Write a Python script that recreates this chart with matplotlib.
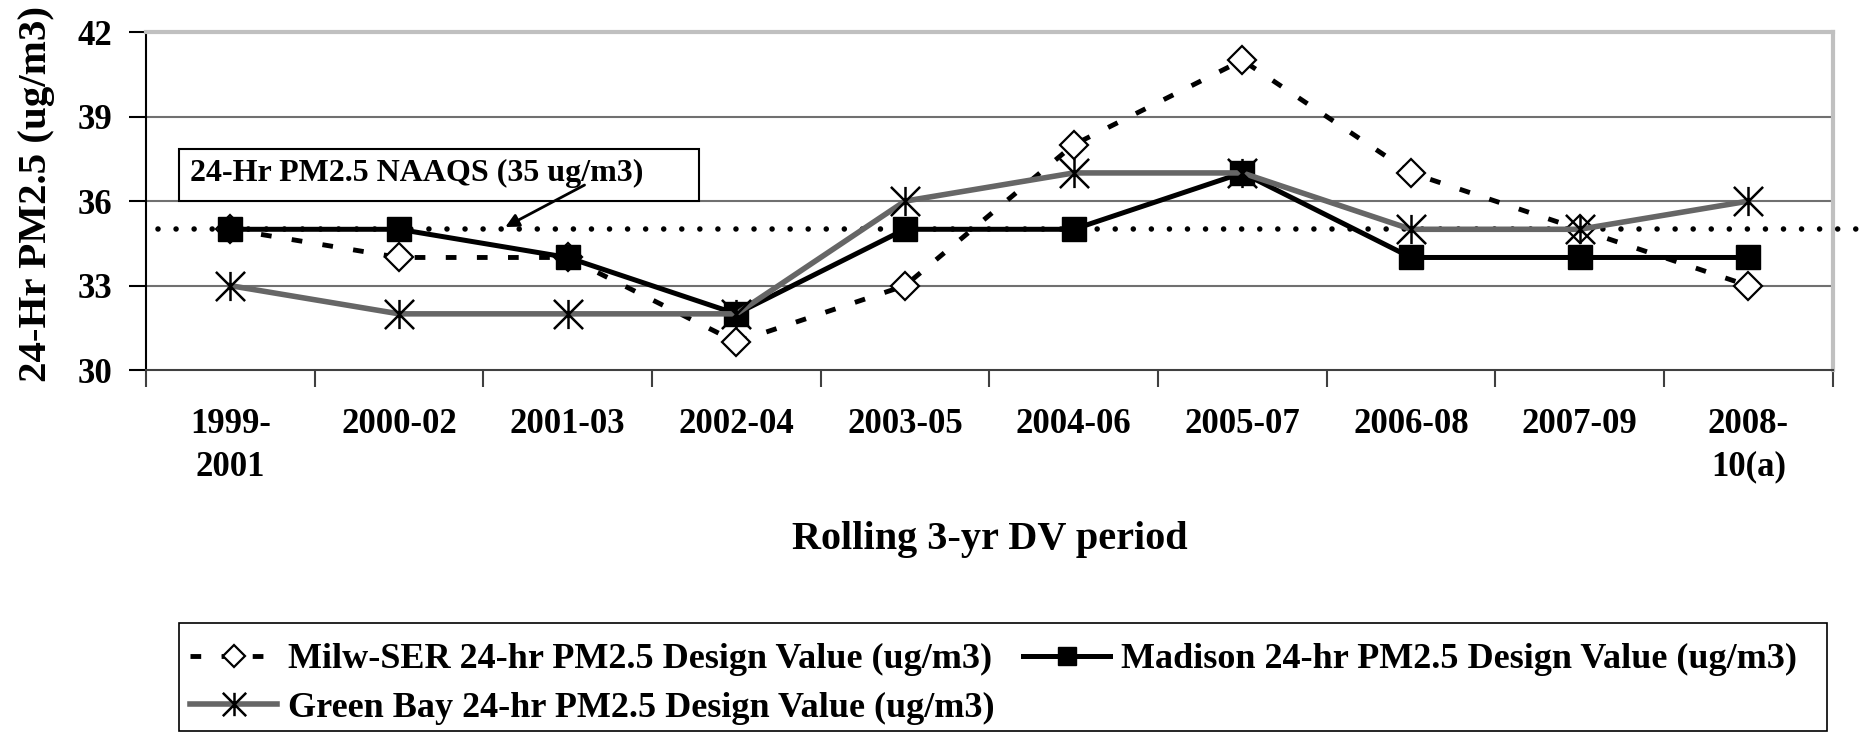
import numpy as np
import matplotlib.pyplot as plt
from matplotlib.path import Path
from matplotlib.patches import Rectangle

# rolling 3-yr design value periods
periods = ['1999-\n2001', '2000-02', '2001-03', '2002-04', '2003-05',
           '2004-06', '2005-07', '2006-08', '2007-09', '2008-\n10(a)']

# 24-hr PM2.5 design values (ug/m3)
milw_ser = [35, 34, 34, 31, 33, 38, 41, 37, 35, 33]
madison = [35, 35, 34, 32, 35, 35, 37, 34, 34, 34]
green_bay = [33, 32, 32, 32, 36, 37, 37, 35, 35, 36]

naaqs = 35
yticks = [30, 33, 36, 39, 42]

plt.rcParams['font.family'] = ['Liberation Serif', 'DejaVu Serif']
plt.rcParams['font.weight'] = 'bold'

# asterisk marker: X plus vertical bar
star = Path([(-1, -1), (1, 1), (-1, 1), (1, -1), (0, -1), (0, 1)],
            [Path.MOVETO, Path.LINETO, Path.MOVETO, Path.LINETO, Path.MOVETO, Path.LINETO])

fig, ax = plt.subplots(figsize=(18.72, 7.36), dpi=100)
fig.subplots_adjust(left=0.078, right=0.979, top=0.9565, bottom=0.497)

x = np.arange(len(periods))

# NAAQS dotted line, runs a bit past the plot area
ax.plot([-0.43, 9.65], [naaqs, naaqs], color='black', lw=4,
        linestyle=(0, (0.001, 3.25)), dash_capstyle='round', clip_on=False, zorder=3)

l1, = ax.plot(x, milw_ser, color='black', lw=3.5, linestyle=(0, (2.2, 4.2)),
              marker='D', markersize=14, markerfacecolor='white', markeredgecolor='black',
              markeredgewidth=1.6, zorder=4)
l2, = ax.plot(x, madison, color='black', lw=3.6, marker='s', markersize=17,
              markerfacecolor='black', markeredgecolor='black', zorder=5)
l3, = ax.plot(x, green_bay, color='#666666', lw=4, marker=star, markersize=21,
              markerfacecolor='none', markeredgecolor='black', markeredgewidth=1.8, zorder=6)

ax.set_xlim(-0.5, len(periods) - 0.5)
ax.set_ylim(30, 42)
ax.set_yticks(yticks)
ax.set_xticks(x)
ax.set_xticklabels(periods, fontsize=25, fontweight='bold', linespacing=1.4)
ax.set_xticks(np.arange(-0.5, len(periods)), minor=True)
ax.tick_params(axis='x', which='major', length=0, pad=27)
ax.tick_params(axis='x', which='minor', length=12, width=1.5, color='#404040')
ax.tick_params(axis='y', length=12, width=1.5, pad=12, labelsize=25)

for y in yticks[1:-1]:
    ax.axhline(y, color='#707070', lw=1.5, zorder=1)

ax.spines['top'].set_color('#c0c0c0')
ax.spines['top'].set_linewidth(3)
ax.spines['right'].set_color('#c0c0c0')
ax.spines['right'].set_linewidth(3)
ax.spines['left'].set_linewidth(1.5)
ax.spines['bottom'].set_color('#404040')
ax.spines['bottom'].set_linewidth(1.5)

ax.set_xlabel('Rolling 3-yr DV period', fontsize=29, fontweight='bold')
ax.xaxis.set_label_coords(0.5, -0.445)
ax.set_ylabel('24-Hr PM2.5 (ug/m3)', fontsize=29.5, fontweight='bold')
ax.yaxis.set_label_coords(-0.054, 0.52)

# NAAQS callout box and arrow
ax.add_patch(Rectangle((179 / 1872, 1 - 201 / 736), 520 / 1872, 52 / 736,
                       transform=fig.transFigure, facecolor='white',
                       edgecolor='black', lw=1.5, zorder=10, clip_on=False))
ax.text(190 / 1872, 1 - 173 / 736, '24-Hr PM2.5 NAAQS (35 ug/m3)', fontsize=23,
        fontweight='bold', va='center', ha='left', zorder=11, transform=fig.transFigure)
ax.annotate('', xy=(1.63, 35.08), xytext=(2.10, 36.57),
            arrowprops=dict(arrowstyle='-|>', color='black', lw=2,
                            mutation_scale=20, shrinkA=0, shrinkB=0), zorder=12)

# legend: Milw and Madison on first row, Green Bay on second
fig.patches.append(Rectangle((179 / 1872, 1 - 731 / 736), 1648 / 1872, 108 / 736,
                             transform=fig.transFigure, facecolor='white',
                             edgecolor='black', lw=1.2, zorder=0))
fig.legend([l1, l3, l2],
           ['Milw-SER 24-hr PM2.5 Design Value (ug/m3)',
            'Green Bay 24-hr PM2.5 Design Value (ug/m3)',
            'Madison 24-hr PM2.5 Design Value (ug/m3)'],
           ncol=2, frameon=False, loc='upper left',
           bbox_to_anchor=(183 / 1872, 1 - 636 / 736), borderaxespad=0,
           prop={'size': 26, 'weight': 'bold'}, handlelength=2.4,
           handletextpad=0.3, columnspacing=0.8, labelspacing=0.42,
           markerscale=0.8, borderpad=0.2)

fig.savefig('out.png', dpi=100)
